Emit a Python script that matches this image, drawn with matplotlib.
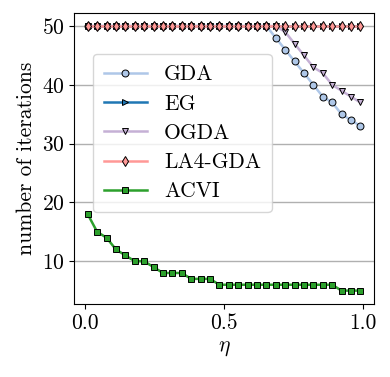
import numpy as np
import matplotlib
matplotlib.use("Agg")
import matplotlib.pyplot as plt

plt.rcParams['font.family'] = 'serif'
plt.rcParams['font.serif'] = ['cmr10', 'DejaVu Serif']
plt.rcParams['mathtext.fontset'] = 'cm'
plt.rcParams['axes.formatter.use_mathtext'] = True
plt.rcParams['font.size'] = 15.5

# step sizes
eta = np.linspace(0.01, 0.99, 30)

# number of iterations for each method
gda = [50] * 20 + [48, 46, 44, 42, 40, 38, 37, 35, 34, 33]
eg = [50] * 30
ogda = [50] * 21 + [49, 47, 45, 43, 42, 40, 39, 38, 37]
la4_gda = [50] * 30
acvi = [18, 15, 14, 12, 11, 10, 10, 9, 8, 8, 8, 7, 7, 7] + [6] * 13 + [5, 5, 5]

fig = plt.figure(figsize=(3.9, 3.77), dpi=100)
ax = fig.add_axes([0.19, 0.194, 0.769, 0.772])

kw = dict(lw=1.8, ms=5, mec='black', mew=0.7)
ax.plot(eta, gda, marker='o', color='#aec7e8', label='GDA', **kw)
ax.plot(eta, eg, marker='>', color='#1f77b4', label='EG', **kw)
ax.plot(eta, ogda, marker='v', color='#c5b0d5', label='OGDA', **kw)
ax.plot(eta, la4_gda, marker='d', color='#ff9896', label='LA4-GDA', **kw)
ax.plot(eta, acvi, marker='s', color='#2ca02c', label='ACVI', **kw)

ax.set_xticks([0.0, 0.5, 1.0])
ax.set_xticklabels(['0.0', '0.5', '1.0'])
ax.set_yticks([10, 20, 30, 40, 50])
ax.grid(axis='y', color='#b0b0b0', lw=1)
ax.set_axisbelow(True)
ax.set_xlabel(r'$\eta$')
ax.set_ylabel('number of iterations')

ax.legend(loc='upper left', bbox_to_anchor=(0.063, 0.858), borderaxespad=0,
          handlelength=2.0, labelspacing=0.45, borderpad=0.5)

plt.savefig('out.png', dpi=100)
